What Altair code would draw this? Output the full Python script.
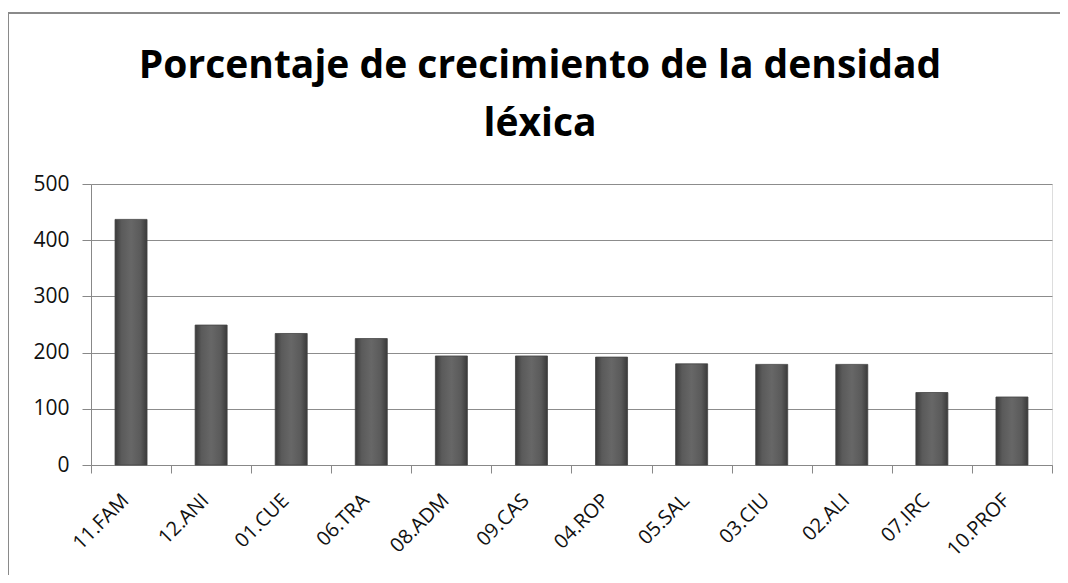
import altair as alt
import pandas as pd

title_line1 = "Porcentaje de crecimiento de la densidad"
title_line2 = "léxica"
categories = ["11.FAM", "12.ANI", "01.CUE", "06.TRA", "08.ADM", "09.CAS",
              "04.ROP", "05.SAL", "03.CIU", "02.ALI", "07.IRC", "10.PROF"]
values = [437, 249, 234, 225, 194, 194, 192, 180, 179, 179, 129, 121]
y_ticks = [0, 100, 200, 300, 400, 500]

df = pd.DataFrame({"cat": categories, "val": values})

FONT = "Open Sans"

grad = alt.Gradient(
    gradient="linear", x1=0, x2=1, y1=0, y2=0,
    stops=[
        alt.GradientStop(color="#3a3a3a", offset=0),
        alt.GradientStop(color="#5a5a5a", offset=0.2),
        alt.GradientStop(color="#676767", offset=0.5),
        alt.GradientStop(color="#5a5a5a", offset=0.8),
        alt.GradientStop(color="#3a3a3a", offset=1),
    ],
)

bars = alt.Chart(df).mark_bar(color=grad, width=32, stroke="#444444", strokeWidth=0.8).encode(
    x=alt.X("cat:N", sort=categories, title=None,
            scale=alt.Scale(paddingInner=0, paddingOuter=0),
            axis=alt.Axis(labelAngle=-45, labelAlign="right", labelBaseline="top",
                          labelFont=FONT, labelFontSize=20, labelColor="#111111",
                          labelPadding=17, labelOffset=-13, tickBand="extent", tickSize=8,
                          tickColor="#888888", domainColor="#888888", grid=False)),
    y=alt.Y("val:Q", title=None,
            scale=alt.Scale(domain=[0, 500]),
            axis=alt.Axis(values=y_ticks, labelFont=FONT,
                          labelFontSize=21, labelColor="#111111", tickSize=9,
                          labelPadding=13, tickColor="#888888", domainColor="#888888",
                          gridColor="#8c8c8c", gridWidth=1)),
)

one = alt.Data(values=[{"a": 1}])

border = alt.Chart(one).mark_rect(
    fill=None, stroke="#8a8a8a", strokeWidth=2
).encode(
    x=alt.value(-83), x2=alt.value(990), y=alt.value(-171), y2=alt.value(500)
)

t1 = alt.Chart(one).mark_text(
    font=FONT, fontSize=39, fontWeight="bold", color="#000000",
    align="center", baseline="alphabetic",
).encode(x=alt.value(449), y=alt.value(-106), text=alt.value(title_line1))

t2 = alt.Chart(one).mark_text(
    font=FONT, fontSize=39, fontWeight="bold", color="#000000",
    align="center", baseline="alphabetic",
).encode(x=alt.value(449), y=alt.value(-48), text=alt.value(title_line2))

chart = alt.layer(border, t1, t2, bars).properties(
    width=961, height=281,
    autosize=alt.AutoSizeParams(type="none"),
    padding={"left": 83, "top": 176, "right": 8, "bottom": 110},
).configure_view(stroke=None).configure(background="white")

chart.save("out.html", embed_options={"renderer": "svg", "actions": False})
